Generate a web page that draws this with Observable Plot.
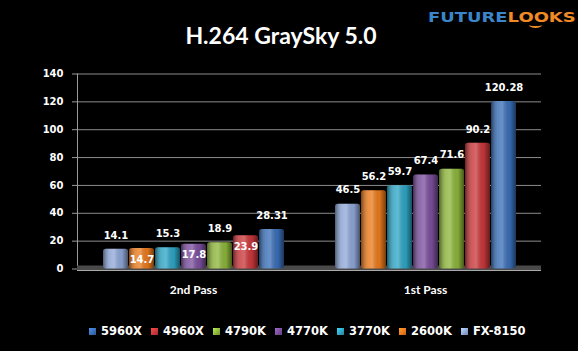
<!DOCTYPE html>
<html>
<head>
<meta charset="utf-8">
<script src="https://cdn.jsdelivr.net/npm/d3@7"></script>
<script src="https://cdn.jsdelivr.net/npm/@observablehq/plot@0.6"></script>
<style>
  html, body { margin: 0; padding: 0; background: #000; }
  #wrap { position: relative; width: 578px; height: 351px; overflow: hidden; background: #000; }
  #title { position: absolute; left: 0; width: 562px; top: 21px; text-align: center; color: #fff;
           font-family: Lato, sans-serif; font-weight: bold; font-size: 23px; }
  #logo { position: absolute; left: 428px; top: 9px; font-family: "DejaVu Sans", sans-serif; font-weight: bold;
          font-size: 14px; transform: scaleX(1.28); transform-origin: left top; white-space: nowrap; }
  #logo .a { color: #3a86c8; } #logo .b { color: #f08a24; }
  #smile { position: absolute; left: 529px; top: 22px; width: 13px; height: 4px; border-bottom: 2px solid #f08a24;
           border-radius: 0 0 50% 50%; }
  #chart { position: absolute; left: 0; top: 0; }
  #legend { position: absolute; left: 89px; top: 324px; width: 480px; display: flex; font-family: "DejaVu Sans", sans-serif;
            font-weight: bold; font-size: 11.5px; color: #fff; }
  #legend .item { width: 62px; flex: 0 0 62px; display: flex; align-items: center; white-space: nowrap; }
  #legend .sw { width: 7px; height: 7px; margin-right: 5px; flex: 0 0 7px; }
</style>
</head>
<body>
<svg width="0" height="0" style="position:absolute">
  <defs>
    <linearGradient id="shine" x1="0" x2="1" y1="0" y2="0">
      <stop offset="0%" stop-color="#000" stop-opacity="0.45"/>
      <stop offset="30%" stop-color="#fff" stop-opacity="0.18"/>
      <stop offset="45%" stop-color="#fff" stop-opacity="0.25"/>
      <stop offset="75%" stop-color="#000" stop-opacity="0.05"/>
      <stop offset="100%" stop-color="#000" stop-opacity="0.5"/>
    </linearGradient>
  </defs>
</svg>
<div id="wrap">
  <div id="chart"></div>
  <div id="title">H.264 GraySky 5.0</div>
  <div id="logo"><span class="a">FUTURE</span><span class="b">LOOKS</span></div>
  <div id="smile"></div>
  <div id="legend"></div>
</div>
<script>
const cpus = ["FX-8150", "2600K", "3770K", "4770K", "4790K", "4960X", "5960X"];
const passes = ["2nd Pass", "1st Pass"];
const secondPass = [14.1, 14.7, 15.3, 17.8, 18.9, 23.9, 28.31];
const firstPass = [46.5, 56.2, 59.7, 67.4, 71.6, 90.2, 120.28];
const colors = ["#8ea6d6", "#e8791c", "#2ea4c4", "#7a4e9c", "#8cb43a", "#c8373a", "#3a6eb6"];
const yTicks = [0, 20, 40, 60, 80, 100, 120, 140];
const legendOrder = ["5960X", "4960X", "4790K", "4770K", "3770K", "2600K", "FX-8150"];

const data = [];
cpus.forEach((c, i) => data.push({pass: passes[0], cpu: c, idx: i, value: secondPass[i]}));
cpus.forEach((c, i) => data.push({pass: passes[1], cpu: c, idx: i, value: firstPass[i]}));

const inside = d => d.pass === passes[0] && d.idx % 2 === 1;

const chart = Plot.plot({
  width: 578,
  height: 300,
  marginLeft: 77,
  marginRight: 37,
  marginTop: 73.5,
  marginBottom: 31.5,
  style: {background: "transparent", color: "#fff"},
  fx: {domain: passes, padding: 0, label: null, axis: null},
  x: {domain: cpus, paddingInner: 0.05, paddingOuter: 0.875, axis: null},
  y: {domain: [0, 140], label: null},
  color: {domain: cpus, range: colors},
  marks: [
    Plot.ruleY(yTicks.filter(v => v > 0), {stroke: "#8c8c8c", strokeWidth: 1}),
    Plot.frame({anchor: "left", stroke: "#9a9a9a", facetAnchor: "left"}),
    Plot.ruleY([0], {stroke: "#4a4a4a", strokeWidth: 5, dy: -1}),
    Plot.ruleY([0], {stroke: "#aaaaaa", strokeWidth: 1, dy: 1.5}),
    Plot.barY(data, {fx: "pass", x: "cpu", y: "value", fill: "cpu", rx: 3}),
    Plot.barY(data, {fx: "pass", x: "cpu", y: "value", fill: "url(#shine)", rx: 3}),
    Plot.text(data.filter(d => !inside(d)), {fx: "pass", x: "cpu", y: "value", text: d => String(d.value),
      dy: -14, fill: "#fff", fontWeight: "bold", fontSize: 10, fontFamily: "DejaVu Sans"}),
    Plot.text(data.filter(inside), {fx: "pass", x: "cpu", y: "value", text: d => String(d.value),
      dy: 11, fill: "#fff", fontWeight: "bold", fontSize: 10, fontFamily: "DejaVu Sans"}),
    Plot.axisY({ticks: yTicks, tickSize: 5, tickPadding: 9, stroke: "#9a9a9a", fill: "#fff",
      fontWeight: "bold", fontSize: 10, fontFamily: "DejaVu Sans", label: null}),
    Plot.axisFx({anchor: "bottom", tickSize: 0, tickPadding: 16, fill: "#fff", fontWeight: "bold", fontSize: 12,
      fontFamily: "Lato", label: null})
  ]
});
document.getElementById("chart").appendChild(chart);

const legend = document.getElementById("legend");
legendOrder.forEach(name => {
  const item = document.createElement("div");
  item.className = "item";
  const sw = document.createElement("div");
  sw.className = "sw";
  const col = colors[cpus.indexOf(name)];
  sw.style.background = `linear-gradient(135deg, ${d3.color(col).brighter(0.8)}, ${col} 60%, ${d3.color(col).darker(0.6)})`;
  const t = document.createElement("span");
  t.textContent = name;
  item.appendChild(sw);
  item.appendChild(t);
  legend.appendChild(item);
});
</script>
</body>
</html>
